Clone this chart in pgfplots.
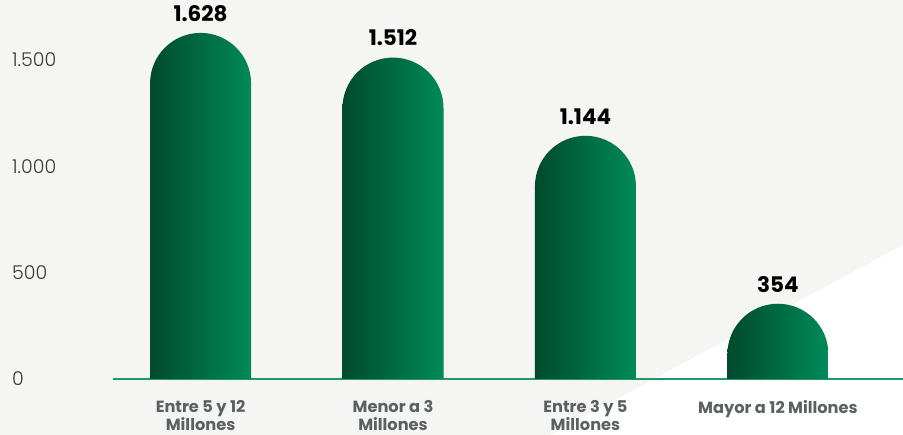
\documentclass[border=0pt]{standalone}
\usepackage{pgfplots}
\pgfplotsset{compat=1.18}
\usepackage{pgfplotstable}
\usepackage{fontspec}
\setmainfont{Poppins}
\newfontfamily\lightf{Poppins Light}
\newfontfamily\boldf{Poppins Bold}

\definecolor{bgc}{HTML}{F5F5F3}
\definecolor{gdark}{HTML}{004A2C}
\definecolor{glight}{HTML}{008A5A}
\definecolor{baseg}{HTML}{1D9A6C}
\definecolor{ticktxt}{HTML}{3A3A3A}
\definecolor{cattxt}{HTML}{5B6063}

\pgfdeclareplotmark{empty}{}

\pgfplotstableread{
x v
0 1628
1 1512
2 1144
3 354
}\datatable

\begin{document}
\begin{tikzpicture}
\useasboundingbox (0,0) rectangle (903pt,435pt);
\fill[bgc] (0,0) rectangle (903pt,435pt);
\fill[white] (550pt,0) -- (903pt,0) -- (903pt,190pt) -- cycle;
\begin{axis}[
  at={(113pt,56pt)}, anchor=south west,
  scale only axis, width=790pt, height=378.4pt,
  xmin=-0.455, xmax=3.65, ymin=0, ymax=1780,
  axis line style={draw=none}, tick style={draw=none},
  major tick length=0pt,
  /pgf/number format/1000 sep={.},
  /pgf/number format/assume math mode=true,
  ytick={0,500,1000,1500},
  yticklabel style={anchor=west, inner sep=0pt, xshift=-101pt,
    font=\lightf\fontsize{19}{22}\selectfont, text=ticktxt},
  xtick={0,1,2,3},
  xticklabels={{Entre 5 y 12\\Millones},{Menor a 3\\Millones},{Entre 3 y 5\\Millones},{Mayor a 12 Millones}},
  xticklabel style={align=center, anchor=north, inner sep=0pt, yshift=-21pt,
    font=\boldf\fontsize{16.2}{18.5}\selectfont, text=cattxt},
  clip=false,
]
% each bar: drawn from its value down to the baseline, with a round top
% (meta mapped 0..1780 -> 0..1000, axis height 378.4pt)
\addplot[scatter, only marks, mark=empty,
  point meta=y, point meta min=0, point meta max=1780,
  scatter/@pre marker code/.code={%
    \pgfmathsetmacro\h{\pgfplotspointmetatransformed*0.3784}%
    \path[draw=none, left color=gdark, right color=glight]
      (-50.5pt,-\h pt) -- (-50.5pt,-50.5pt)
      arc[start angle=180, end angle=0, radius=50.5pt]
      -- (50.5pt,-\h pt) -- cycle;},
  scatter/@post marker code/.code={}]
  table[x=x, y=v] {\datatable};
\addplot[draw=none, mark=none, point meta=y, nodes near coords,
  nodes near coords style={anchor=south, yshift=8pt, text=black,
    font=\boldf\fontsize{21.5}{24}\selectfont}]
  table[x=x, y=v] {\datatable};
\draw[baseg, line width=2.5pt] (rel axis cs:0,0) -- (rel axis cs:1,0);
\end{axis}
\end{tikzpicture}
\end{document}
